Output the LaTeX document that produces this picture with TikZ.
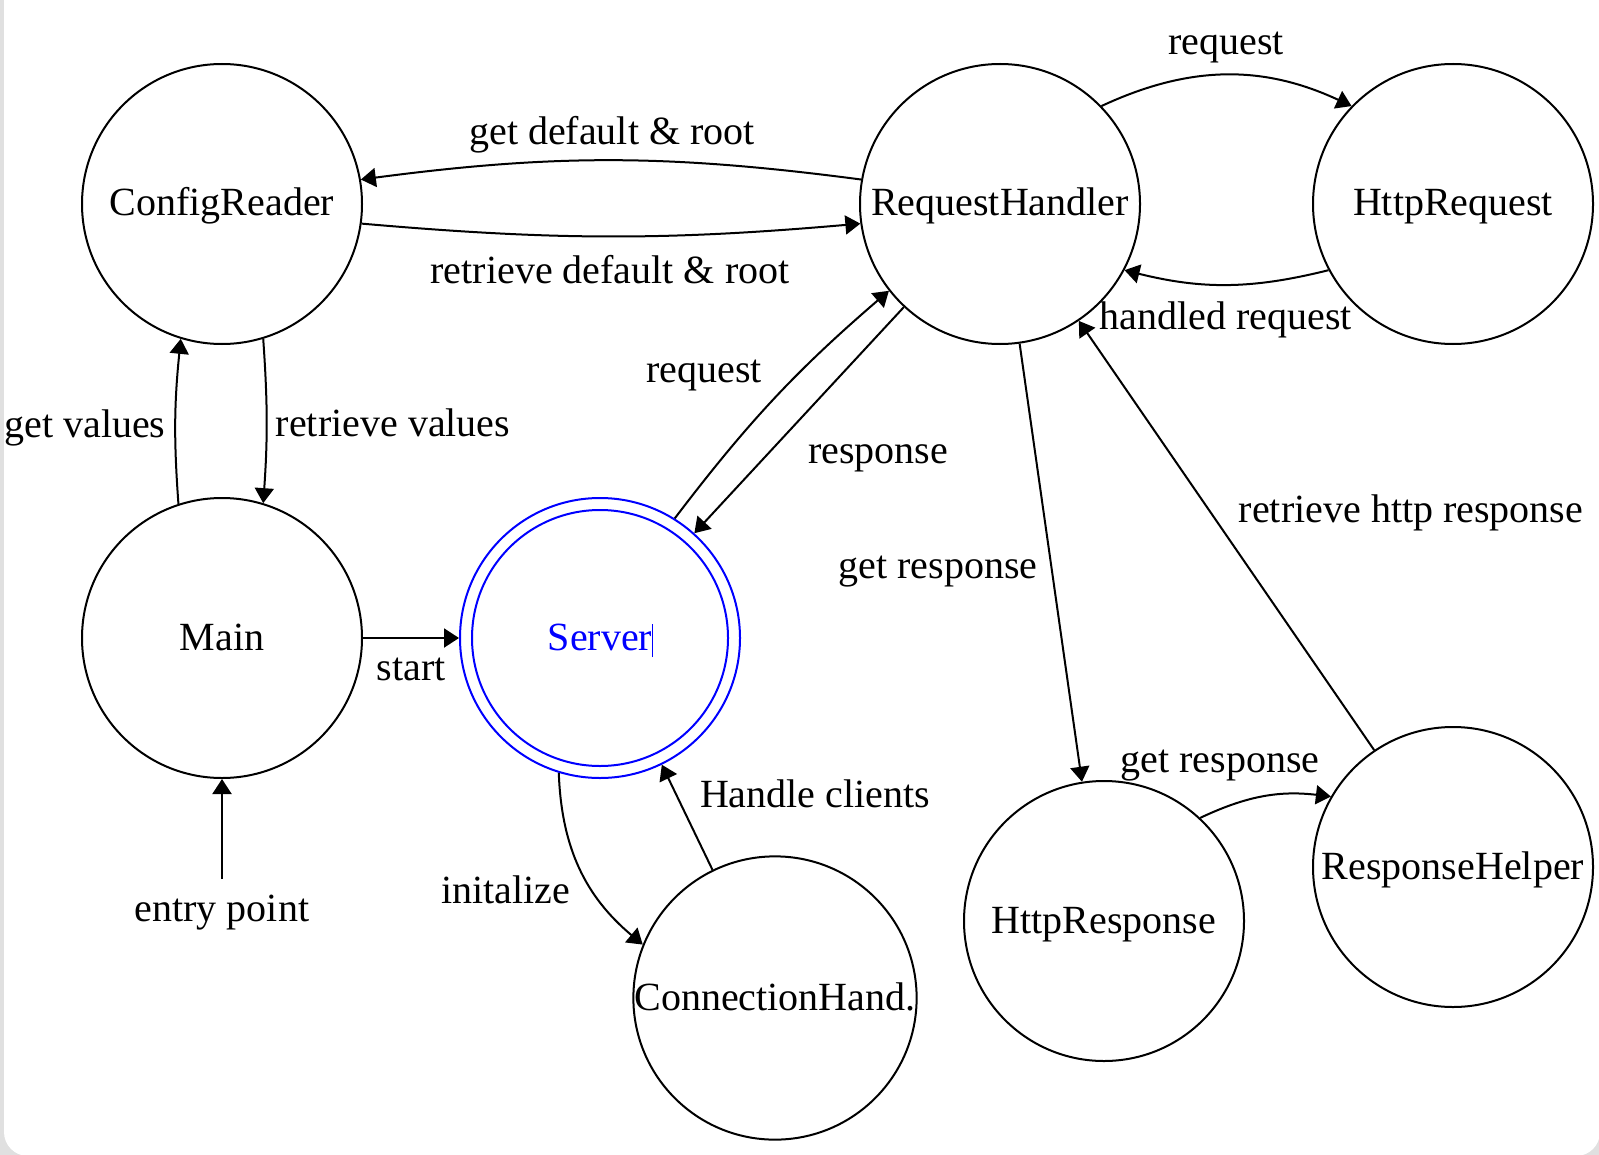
\documentclass[tikz,border=0pt]{standalone}
\usepackage{fontspec}
\setmainfont{Liberation Serif}
\usetikzlibrary{arrows.meta}
\definecolor{framegray}{RGB}{224,224,224}
\definecolor{selblue}{RGB}{0,0,255}
\tikzset{
    %Define standard arrow tip
    >={Triangle[length=7.5pt,width=9.5pt]},
    %Define style for edge texts
    lbl/.style={
           anchor=base, inner sep=2pt},
    % Define arrow style
    pil/.style={
           ->,
           line width=1pt,}
}
\begin{document}
\begin{tikzpicture}[x=0.5pt, y=0.5pt, font=\fontsize{20}{24}\selectfont, node distance=217pt]
	% Styles
	\tikzstyle{state} = [circle, draw, line width=1pt, minimum size=140pt, inner sep=0pt, text height=15pt, text depth=3pt]

	% Frame
	\path[use as bounding box, clip] (0,0) rectangle (1599,-1155);
	\fill[framegray] (0,0) rectangle (1599,-1155);
	\fill[white, rounded corners=12pt] (4,40) rectangle (1600,-1156);

	% States
	\node[state](cr) at (222,-204){ConfigReader};
	\node[state, below of= cr](main){Main};
	\node[state, right of= cr, node distance=389pt](rh){RequestHandler};
	\node[state, right of= rh, node distance=226.5pt](hreq){HttpRequest};
	\node[state, right of= main, node distance=189pt, draw=selblue, text=selblue](server){Server\rlap{\smash{\rule[-3.5pt]{0.6pt}{16.5pt}}}};
	\node[circle, draw=selblue, line width=1pt, minimum size=128pt](serverin) at (server){};
	\node[state](conn) at (775,-998){ConnectionHand.};
	\node[state](hresp) at (1104,-921){HttpResponse};
	\node[state](rhelp) at (1453,-867){ResponseHelper};
	\node[lbl, inner sep=7.5pt](entry) at (222,-921){entry point};

	% Transitions
	\path[pil] (rh.170)     edge[bend right=7.5] (cr.10)
	           (cr.-8)      edge[bend right=5] (rh.188)
	           (main.108)   edge[bend left=5] (cr.253)
	           (cr.287)     edge[bend left=4] (main.73)
	           (main)       edge (server)
	           (entry)      edge (main)
	           (server.58)  edge[bend left=6] (rh.218)
	           (rh.227)     edge (server.48)
	           (server.253) edge[bend right=24] (conn.158)
	           (conn.116)   edge (server.296)
	           (rh.44)      edge[bend left=25] (hreq.136)
	           (hreq.208)   edge[bend left=14] (rh.332)
	           (rh.278)     edge (hresp.99)
	           (rhelp.124)  edge (rh.304)
	           (hresp.47)   edge[bend left=16] (rhelp.150);

	% Labels
	\node[lbl](lbldef) at (612,-145){get default \& root};
	\node[lbl](lblret) at (610,-283){retrieve default \& root};
	\node[lbl](lblget) at (85,-437){get values};
	\node[lbl](lblretval) at (393,-436){retrieve values};
	\node[lbl](lblstart) at (411,-680){start};
	\node[lbl](lblinit) at (506,-903){initalize};
	\node[lbl](lblclients) at (815,-807){Handle clients};
	\node[lbl](lblreq) at (704,-382){request};
	\node[lbl](lblresp) at (878,-463){response};
	\node[lbl](lblgetresp) at (938,-578){get response};
	\node[lbl](lblhttp) at (1411,-522){retrieve http response};
	\node[lbl](lblhreq) at (1226,-55){request};
	\node[lbl](lblhandled) at (1226,-329){handled request};
	\node[lbl](lblhelper) at (1220,-772){get response};
\end{tikzpicture}
\end{document}
